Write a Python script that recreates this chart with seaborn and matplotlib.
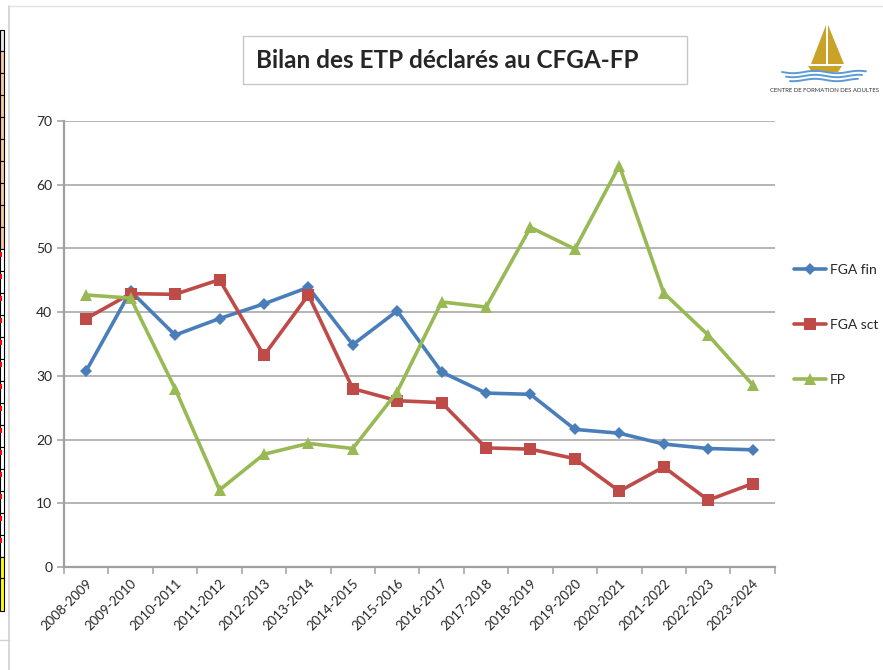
import numpy as np
import pandas as pd
import seaborn as sns
import matplotlib.pyplot as plt
from matplotlib.patches import Rectangle, Polygon
from matplotlib.lines import Line2D

# school years
years = ['2008-2009', '2009-2010', '2010-2011', '2011-2012', '2012-2013', '2013-2014',
         '2014-2015', '2015-2016', '2016-2017', '2017-2018', '2018-2019', '2019-2020',
         '2020-2021', '2021-2022', '2022-2023', '2023-2024']

fga_fin = [30.8, 43.3, 36.4, 39.0, 41.3, 43.9, 34.9, 40.2, 30.6, 27.3, 27.1, 21.6,
           21.0, 19.3, 18.6, 18.4]
fga_sct = [39.0, 42.9, 42.8, 45.1, 33.2, 42.7, 28.0, 26.1, 25.8, 18.7, 18.5, 17.0,
           11.9, 15.7, 10.5, 13.1]
fp = [42.7, 42.2, 28.0, 12.1, 17.7, 19.4, 18.6, 27.5, 41.6, 40.8, 53.3, 49.9,
      63.0, 43.0, 36.4, 28.6]

series_names = ['FGA fin', 'FGA sct', 'FP']
colors = ['#4a7ebb', '#be4b48', '#98b954']
markers = ['D', 's', '^']
msizes = [6, 9, 9]

df = pd.DataFrame({'annee': years * 3,
                   'ETP': fga_fin + fga_sct + fp,
                   'serie': np.repeat(series_names, len(years))})

sns.set_style('white')
plt.rcParams['font.family'] = ['Lato', 'DejaVu Sans']

fig = plt.figure(figsize=(8.83, 6.70), dpi=100)
ax = fig.add_axes([0.0725, 0.1537, 0.805, 0.6657])

for i, name in enumerate(series_names):
    sub = df[df['serie'] == name]
    sns.lineplot(data=sub, x='annee', y='ETP', ax=ax, color=colors[i], linewidth=2.6,
                 marker=markers[i], markersize=msizes[i], markeredgewidth=0,
                 label=name, legend=False, sort=False)

ax.set_xlim(-0.5, len(years) - 0.5)
ax.set_ylim(0, 70)
ax.set_yticks(range(0, 71, 10))
ax.yaxis.grid(True, color='#a0a0a0', linewidth=1.1)
ax.set_axisbelow(True)
ax.set_xlabel('')
ax.set_ylabel('')

ax.set_xticks(range(len(years)))
ax.set_xticklabels(years, rotation=45, ha='right', rotation_mode='anchor', fontsize=9.5)
ax.set_xticks(np.arange(-0.5, len(years), 1), minor=True)
ax.tick_params(axis='x', which='major', length=0, pad=7)
ax.tick_params(axis='x', which='minor', length=5, color='#a0a0a0', width=1.1, bottom=True)
ax.tick_params(axis='y', length=5, color='#a0a0a0', width=1.1, left=True, labelsize=10)

for s in ['top', 'right']:
    ax.spines[s].set_visible(False)
for s in ['left', 'bottom']:
    ax.spines[s].set_color('#a0a0a0')
    ax.spines[s].set_linewidth(1.6)

# legend on the right
handles = [Line2D([], [], color=colors[i], lw=2.6, marker=markers[i],
                  markersize=msizes[i], markeredgewidth=0) for i in range(3)]
fig.legend(handles, series_names, loc='upper left', bbox_to_anchor=(0.885, 0.625),
           frameon=False, fontsize=10, labelspacing=3.1, handlelength=2.3,
           handletextpad=0.3)

W, H = 883, 670
def fp_(x, y):
    return (x / W, 1 - y / H)

# title box
fig.patches.append(Rectangle(fp_(243, 84), 444 / W, 48 / H, transform=fig.transFigure,
                             facecolor='white', edgecolor='#c8c8c8', lw=1.0))
fig.text(256 / W, 1 - 60 / H, 'Bilan des ETP déclarés au CFGA-FP', ha='left', va='center',
         fontsize=17.5, fontweight='bold')

# logo (sail boat + waves + caption)
fig.patches.append(Polygon([fp_(826, 25), fp_(826, 64), fp_(811, 64)], closed=True,
                           transform=fig.transFigure, facecolor='#c9a227', edgecolor='none'))
fig.patches.append(Polygon([fp_(828, 25), fp_(844, 64), fp_(828, 64)], closed=True,
                           transform=fig.transFigure, facecolor='#c9a227', edgecolor='none'))
fig.patches.append(Polygon([fp_(808, 66), fp_(842, 66), fp_(838, 72), fp_(812, 72)], closed=True,
                           transform=fig.transFigure, facecolor='#c9a227', edgecolor='none'))
for k, yy in enumerate([72, 76, 80]):
    xs = np.linspace(782 + 4 * k, 866 - 4 * k, 40)
    ys = yy + 1.2 * np.sin((xs - 782) / 7.0)
    fig.lines.append(Line2D(xs / W, 1 - ys / H, transform=fig.transFigure,
                            color='#5b9bd5', lw=1.4))
fig.text(824 / W, 1 - 90 / H, 'CENTRE DE FORMATION DES ADULTES', ha='center', va='center',
         fontsize=4.3, color='#333333')

# spreadsheet edge on the left
fig.lines.append(Line2D([9 / W, 9 / W], [0, 1 - 6 / H], transform=fig.transFigure,
                        color='#d0d0d0', lw=1.2))
fig.lines.append(Line2D([9 / W, 1], [1 - 6 / H, 1 - 6 / H], transform=fig.transFigure,
                        color='#e2e2e2', lw=1.0))
fig.lines.append(Line2D([0, 9 / W], [1 - 640 / H, 1 - 640 / H], transform=fig.transFigure,
                        color='#d0d0d0', lw=1.0))
cell_tops = [30, 51, 73, 95, 117, 139, 161, 183, 205, 227, 249, 271, 293, 315, 337, 359,
             381, 403, 425, 447, 469, 491, 513, 535, 557, 578]
for j, top in enumerate(cell_tops[:-1]):
    bot = cell_tops[j + 1]
    if top < 50:
        fc = '#e8e8e8'
    elif top < 228:
        fc = '#f7c7a0'
    elif top < 556:
        fc = 'white'
    else:
        fc = '#ffff00'
    fig.patches.append(Rectangle((0, 1 - bot / H), 4 / W, (bot - top) / H,
                                 transform=fig.transFigure, facecolor=fc,
                                 edgecolor='black', lw=0.8))
    if 228 < top < 556:
        fig.patches.append(Rectangle((0, 1 - (top + 8) / H), 2 / W, 5 / H,
                                     transform=fig.transFigure, facecolor='red',
                                     edgecolor='none'))
fig.patches.append(Rectangle((0, 1 - 611 / H), 4 / W, 33 / H, transform=fig.transFigure,
                             facecolor='#ffff00', edgecolor='black', lw=0.8))

fig.savefig('out.png', dpi=100)
